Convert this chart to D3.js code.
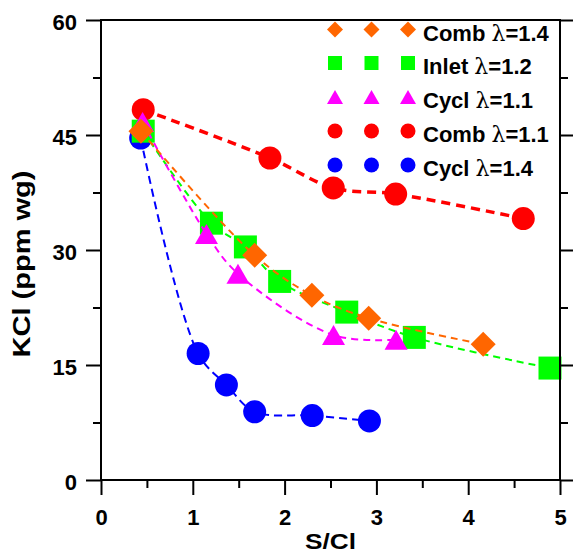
<!DOCTYPE html>
<html><head><meta charset="utf-8">
<script src="https://cdn.jsdelivr.net/npm/d3@7"></script>
<style>html,body{margin:0;padding:0;background:#fff;}svg{display:block;}</style>
</head><body>
<svg id="chart" width="573" height="553"></svg>
<script>
// ---- data ----
const seriesNames = ["Comb λ=1.4", "Inlet λ=1.2", "Cycl λ=1.1", "Comb λ=1.1", "Cycl λ=1.4"];
const combL14_x = [0.435, 1.674, 2.297, 2.916, 4.163];
const combL14_y = [45.5, 29.3, 24.1, 21.1, 17.7];
const inletL12_x = [0.46, 1.203, 1.573, 1.946, 2.677, 3.413, 4.891];
const inletL12_y = [45.5, 33.5, 30.4, 25.9, 21.9, 18.6, 14.6];
const cyclL11_x = [0.453, 1.149, 1.492, 2.533, 3.214];
const cyclL11_y = [46.7, 32.1, 26.9, 18.9, 18.3];
const combL11_x = [0.46, 1.84, 2.53, 3.21, 4.60];
const combL11_y = [48.3, 42.0, 38.1, 37.3, 34.1];
const cyclL14_x = [0.432, 1.058, 1.366, 1.674, 2.301, 2.924];
const cyclL14_y = [44.6, 16.5, 12.4, 8.9, 8.4, 7.7];
const xTicks = [0, 1, 2, 3, 4, 5];
const yTicks = [0, 15, 30, 45, 60];
const xMinor = [0.5, 1.5, 2.5, 3.5, 4.5];
const yMinor = [7.5, 22.5, 37.5, 52.5];
const xTitle = "S/Cl";
const yTitle = "KCl (ppm wg)";

// ---- chart ----
const svg = d3.select("#chart");
const x = d3.scaleLinear().domain([0, 5]).range([101, 560]);
const y = d3.scaleLinear().domain([0, 60]).range([480, 20]);
const font = "'Liberation Sans', Arial, sans-serif";

// custom symbols
const triSym = { draw(ctx, size) { const w = size, h = size * 0.87; ctx.moveTo(0, -h/2); ctx.lineTo(w/2, h/2); ctx.lineTo(-w/2, h/2); ctx.closePath(); } };
const diaSym = { draw(ctx, size) { const r = size / 2; ctx.moveTo(0, -r); ctx.lineTo(r, 0); ctx.lineTo(0, r); ctx.lineTo(-r, 0); ctx.closePath(); } };
const sqSym = { draw(ctx, size) { const r = size / 2; ctx.rect(-r, -r, size, size); } };
const circSym = { draw(ctx, size) { const r = size / 2; ctx.moveTo(r, 0); ctx.arc(0, 0, r, 0, 2 * Math.PI); } };

const series = [
  { name: seriesNames[4], xs: cyclL14_x, ys: cyclL14_y, color: "#0000FF", sym: circSym, size: 23, lw: 2, dash: "8,5" },
  { name: seriesNames[3], xs: combL11_x, ys: combL11_y, color: "#FF0000", sym: circSym, size: 23, lw: 3.5, dash: "9,6" },
  { name: seriesNames[1], xs: inletL12_x, ys: inletL12_y, color: "#00FF00", sym: sqSym, size: 23, lw: 2, dash: "7,5" },
  { name: seriesNames[2], xs: cyclL11_x, ys: cyclL11_y, color: "#FF00FF", sym: triSym, size: 23, lw: 2, dash: "7,5" },
  { name: seriesNames[0], xs: combL14_x, ys: combL14_y, color: "#FF6600", sym: diaSym, size: 25, lw: 2, dash: "7,5" }
];

const line = d3.line().x(d => x(d[0])).y(d => y(d[1])).curve(d3.curveCatmullRom.alpha(0.5));

series.forEach(s => {
  const pts = s.xs.map((v, i) => [v, s.ys[i]]);
  svg.append("path").attr("d", line(pts)).attr("fill", "none")
    .attr("stroke", s.color).attr("stroke-width", s.lw).attr("stroke-dasharray", s.dash);
  svg.append("g").selectAll("path").data(pts).join("path")
    .attr("transform", d => `translate(${x(d[0])},${y(d[1])})`)
    .attr("d", d3.symbol().type(s.sym).size(s.size))
    .attr("fill", s.color);
});

// axes
function styleAxis(g) {
  g.select(".domain").remove();
  g.selectAll(".tick line").attr("stroke", "#000").attr("stroke-width", 2);
  g.selectAll(".tick text").attr("font-family", font).attr("font-weight", "bold").attr("font-size", 22).attr("fill", "#000");
}
svg.append("g").attr("transform", "translate(0,480)")
  .call(d3.axisBottom(x).tickValues(xTicks).tickSize(15).tickPadding(14).tickFormat(d3.format("d"))).call(styleAxis);
svg.append("g").attr("transform", "translate(0,480)")
  .call(d3.axisBottom(x).tickValues(xMinor).tickSize(8).tickFormat("")).call(styleAxis);
svg.append("g").attr("transform", "translate(101,0)")
  .call(d3.axisLeft(y).tickValues(yTicks).tickSize(15).tickPadding(9).tickFormat(d3.format("d"))).call(styleAxis)
  .selectAll(".tick text").attr("dy", "0.42em");
svg.append("g").attr("transform", "translate(101,0)")
  .call(d3.axisLeft(y).tickValues(yMinor).tickSize(8).tickFormat("")).call(styleAxis);
svg.append("g").attr("transform", "translate(560,0)")
  .call(d3.axisRight(y).tickValues(yTicks).tickSize(15).tickFormat("")).call(styleAxis);
svg.append("g").attr("transform", "translate(560,0)")
  .call(d3.axisRight(y).tickValues(yMinor).tickSize(8).tickFormat("")).call(styleAxis);

// frame
svg.append("rect").attr("x", x(0)).attr("y", y(60)).attr("width", x(5) - x(0)).attr("height", y(0) - y(60))
  .attr("fill", "none").attr("stroke", "#000").attr("stroke-width", 2);

// titles
svg.append("text").attr("x", 330.5).attr("y", 549).attr("text-anchor", "middle")
  .attr("font-family", font).attr("font-weight", "bold").attr("font-size", 22)
  .attr("textLength", 51).attr("lengthAdjust", "spacingAndGlyphs").text(xTitle);
svg.append("text").attr("transform", "translate(30,264) rotate(-90)").attr("text-anchor", "middle")
  .attr("font-family", font).attr("font-weight", "bold").attr("font-size", 23)
  .attr("textLength", 187).attr("lengthAdjust", "spacingAndGlyphs").text(yTitle);

// legend
const legendOrder = [
  { s: series[4], ySym: 29.5, size: 16 },
  { s: series[2], ySym: 63, size: 14 },
  { s: series[3], ySym: 97, size: 16 },
  { s: series[1], ySym: 131, size: 15 },
  { s: series[0], ySym: 165, size: 15 }
];
const legendX = [335, 371.5, 408];
legendOrder.forEach(l => {
  const g = svg.append("g");
  g.selectAll("path").data(legendX).join("path")
    .attr("transform", d => `translate(${d},${l.ySym})`)
    .attr("d", d3.symbol().type(l.s.sym).size(l.size))
    .attr("fill", l.s.color);
  const parts = l.s.name.split("λ");
  const t = g.append("text").attr("x", 423).attr("y", l.ySym + 11)
    .attr("font-family", font).attr("font-weight", "bold").attr("font-size", 22).attr("fill", "#000");
  t.append("tspan").text(parts[0]);
  t.append("tspan").attr("font-weight", "normal").attr("font-family", "'DejaVu Serif', serif").text("λ");
  t.append("tspan").text(parts[1]);
});
</script>
</body></html>
